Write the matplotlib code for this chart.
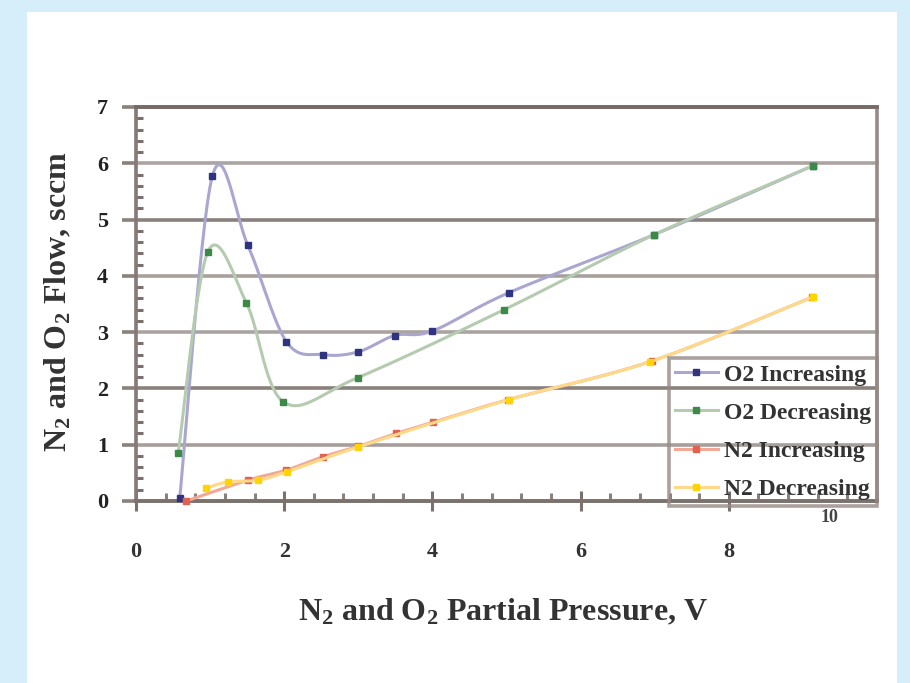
#!/usr/bin/env python3
"""N2 / O2 flow vs partial pressure, smoothed scatter lines like the old Excel chart."""
import numpy as np
import matplotlib.pyplot as plt
from matplotlib.lines import Line2D
from matplotlib.patches import Rectangle
from matplotlib.ticker import MultipleLocator

# values (x = partial pressure, V; y = flow, sccm)
O2_INC_X = [0.59, 1.03, 1.51, 2.03, 2.53, 3.00, 3.49, 4.00, 5.03, 6.99, 9.14]
O2_INC_Y = [0.05, 5.77, 4.54, 2.83, 2.60, 2.65, 2.94, 3.02, 3.70, 4.73, 5.96]

O2_DEC_X = [0.57, 0.97, 1.49, 1.99, 2.99, 4.97, 6.99, 9.14]
O2_DEC_Y = [0.85, 4.43, 3.52, 1.76, 2.19, 3.40, 4.73, 5.96]

N2_INC_X = [0.68, 1.51, 2.03, 2.53, 3.00, 3.51, 4.01, 5.02, 6.97, 9.12]
N2_INC_Y = [0.00, 0.37, 0.55, 0.79, 0.97, 1.20, 1.40, 1.80, 2.49, 3.62]

N2_DEC_X = [0.95, 1.24, 1.65, 2.04, 3.00, 5.03, 6.93, 9.14]
N2_DEC_Y = [0.23, 0.34, 0.37, 0.52, 0.96, 1.80, 2.47, 3.63]

LABELS = ['O2 Increasing', 'O2 Decreasing', 'N2 Increasing', 'N2 Decreasing']
X_TICKS = [0, 2, 4, 6, 8]
Y_TICKS = [0, 1, 2, 3, 4, 5, 6, 7]

# line colour, marker colour per series
LINE_COLORS = ['#a9a7cf', '#b5cbb0', '#f2a894', '#ffd98a']
MARK_COLORS = ['#30337f', '#3b8a47', '#e2614f', '#ffd400']
GRID_COLORS = ['#8a807c', '#a79e9b', '#8a807c', '#aaa3a0', '#a8a09d', '#8a807c', '#aca4a1', '#756a66']

SERIF = ['Liberation Serif', 'DejaVu Serif']
plt.rcParams['font.family'] = SERIF
plt.rcParams['font.weight'] = 'bold'
plt.rcParams['mathtext.fontset'] = 'custom'
plt.rcParams['mathtext.rm'] = 'Liberation Serif:bold'
plt.rcParams['mathtext.it'] = 'Liberation Serif:bold'
plt.rcParams['mathtext.bf'] = 'Liberation Serif:bold'


def smooth(xs, ys, n=30):
    # Catmull-Rom style bezier, same look as Excel "smoothed line"
    pts = np.column_stack([xs, ys]).astype(float)
    p = np.vstack([pts[0], pts, pts[-1]])
    t = np.linspace(0, 1, n)[:, None]
    out = []
    for i in range(1, len(p) - 2):
        p0, p1, p2, p3 = p[i - 1], p[i], p[i + 1], p[i + 2]
        c1 = p1 + (p2 - p0) / 6
        c2 = p2 - (p3 - p1) / 6
        seg = (1 - t) ** 3 * p1 + 3 * (1 - t) ** 2 * t * c1 + 3 * (1 - t) * t ** 2 * c2 + t ** 3 * p2
        out.append(seg if i == 1 else seg[1:])
    out = np.vstack(out)
    return out[:, 0], out[:, 1]


fig = plt.figure(figsize=(9.1, 6.83), dpi=100)
fig.patch.set_facecolor('#d6eef9')
fig.patches.append(Rectangle((27 / 910, 0), 870 / 910, 671 / 683, transform=fig.transFigure,
                             facecolor='white', edgecolor='none', zorder=-5))

ax = fig.add_axes([136 / 910, 182 / 683, 741 / 910, 394 / 683])
ax.set_zorder(2)
ax.set_facecolor('none')
ax.set_xlim(0, 10)
ax.set_ylim(0, 7)

for yv, gc in zip(Y_TICKS, GRID_COLORS):
    ax.axhline(yv, color=gc, linewidth=2.6, zorder=1, clip_on=False)

series = [(O2_INC_X, O2_INC_Y), (O2_DEC_X, O2_DEC_Y), (N2_INC_X, N2_INC_Y), (N2_DEC_X, N2_DEC_Y)]
handles = []
for k, ((xs, ys), lc, mc) in enumerate(zip(series, LINE_COLORS, MARK_COLORS)):
    sx, sy = smooth(xs, ys)
    ax.plot(sx, sy, color=lc, linewidth=2.2, zorder=3 + k, clip_on=False)
    ax.plot(xs, ys, linestyle='none', marker='s', markersize=4.5, color=mc, zorder=3 + k, clip_on=False)
    handles.append(Line2D([], [], color=lc, linewidth=2.2, marker='s', markersize=4.5,
                          markerfacecolor=mc, markeredgecolor=mc))

for side, col in [('left', '#857a76'), ('bottom', '#7a706c'), ('top', '#756a66'), ('right', '#958a86')]:
    ax.spines[side].set_color(col)
    ax.spines[side].set_linewidth(2.6)
    ax.spines[side].set_zorder(2)

ax.set_xticks(X_TICKS)
ax.set_yticks(Y_TICKS)
ax.xaxis.set_minor_locator(MultipleLocator(0.4))
ax.yaxis.set_minor_locator(MultipleLocator(0.2))
ax.tick_params(axis='x', which='major', direction='inout', length=15, width=2.2, color='#7a706c',
               pad=22, labelsize=16, labelcolor='#333333')
ax.tick_params(axis='x', which='minor', direction='in', length=6, width=2.2, color='#8a807c')
ax.tick_params(axis='y', which='major', direction='out', length=10, width=2.6, color='#8a807c',
               pad=10, labelsize=16, labelcolor='#222222')
ax.tick_params(axis='y', which='minor', direction='in', length=5, width=2.2, color='#7a706c')

fig.text(58 / 910, 1 - 302 / 683, 'N$_2$ and O$_2$ Flow, sccm', rotation=90,
         ha='center', va='center', fontsize=23, color='#333333')
fig.text(503 / 910, 1 - 612 / 683, 'N$_2$ and O$_2$ Partial Pressure, V',
         ha='center', va='center', fontsize=23, color='#333333')
fig.text(829 / 910, 1 - 518 / 683, '10', ha='center', va='center', fontsize=13, color='#444444')

leg = ax.legend(handles, LABELS, loc='lower right', bbox_to_anchor=(1.0, -0.012),
                fontsize=17, frameon=True, fancybox=False, handlelength=1.8, handletextpad=0.27,
                labelspacing=0.7, borderpad=0.25, borderaxespad=0.0)
leg.get_frame().set_facecolor('none')
leg.get_frame().set_edgecolor('#958a86')
leg.get_frame().set_linewidth(2.6)
leg.set_zorder(10)
for txt in leg.get_texts():
    txt.set_color('#333333')

fig.savefig('out.png', dpi=100)
